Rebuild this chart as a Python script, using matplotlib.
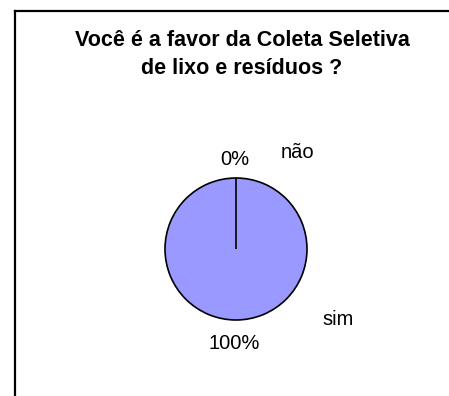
import matplotlib
matplotlib.use("Agg")
import matplotlib.pyplot as plt
from matplotlib.lines import Line2D

plt.rcParams['font.family'] = ['Liberation Sans', 'DejaVu Sans']

# data
labels = ["sim", "não"]
values = [100, 0]
title_lines = ["Você é a favor da Coleta Seletiva", "de lixo e resíduos ?"]

W, H = 449, 396
fig = plt.figure(figsize=(W / 100, H / 100), dpi=100)

# frame (chart area border, right/bottom fall outside the image)
fx, fy = 14.5 / W, 1 - 11 / H
fig.add_artist(Line2D([fx, fx], [-0.02, fy], transform=fig.transFigure,
                      color="black", lw=1.6, solid_capstyle="projecting"))
fig.add_artist(Line2D([fx, 1.02], [fy, fy], transform=fig.transFigure,
                      color="black", lw=1.6, solid_capstyle="projecting"))

for line, base in zip(title_lines, [46, 74]):
    fig.text(242 / W, 1 - base / H, line, ha="center", va="baseline",
             fontsize=15.5, fontweight="bold")

# pie axes: centre (236, 249), radius 71 px
cx, cy, r = 236, 249, 71
ax = fig.add_axes([(cx - r) / W, (H - cy - r) / H, 2 * r / W, 2 * r / H])
wedges, texts, autotexts = ax.pie(values, labels=labels, colors=["#9999FF", "#9999FF"],
                                  startangle=90, counterclock=False,
                                  autopct="%1.0f%%",
                                  wedgeprops=dict(edgecolor="black", linewidth=1.2),
                                  textprops=dict(fontsize=14.5))
ax.set_xlim(-1, 1)
ax.set_ylim(-1, 1)
ax.set_aspect("equal")

# label placement like the original (Excel) layout, in pie radius units
pct_pos = {"sim": (-0.02, -1.41), "não": (-0.01, 1.18)}
label_pos = {"sim": (1.44, -1.07), "não": (0.86, 1.28)}
for t, a in zip(texts, autotexts):
    name = t.get_text()
    t.set_position(label_pos[name])
    a.set_position(pct_pos[name])
    for obj in (t, a):
        obj.set_color("black")
        obj.set_ha("center")
        obj.set_va("baseline")

fig.savefig("out.png", dpi=100)
